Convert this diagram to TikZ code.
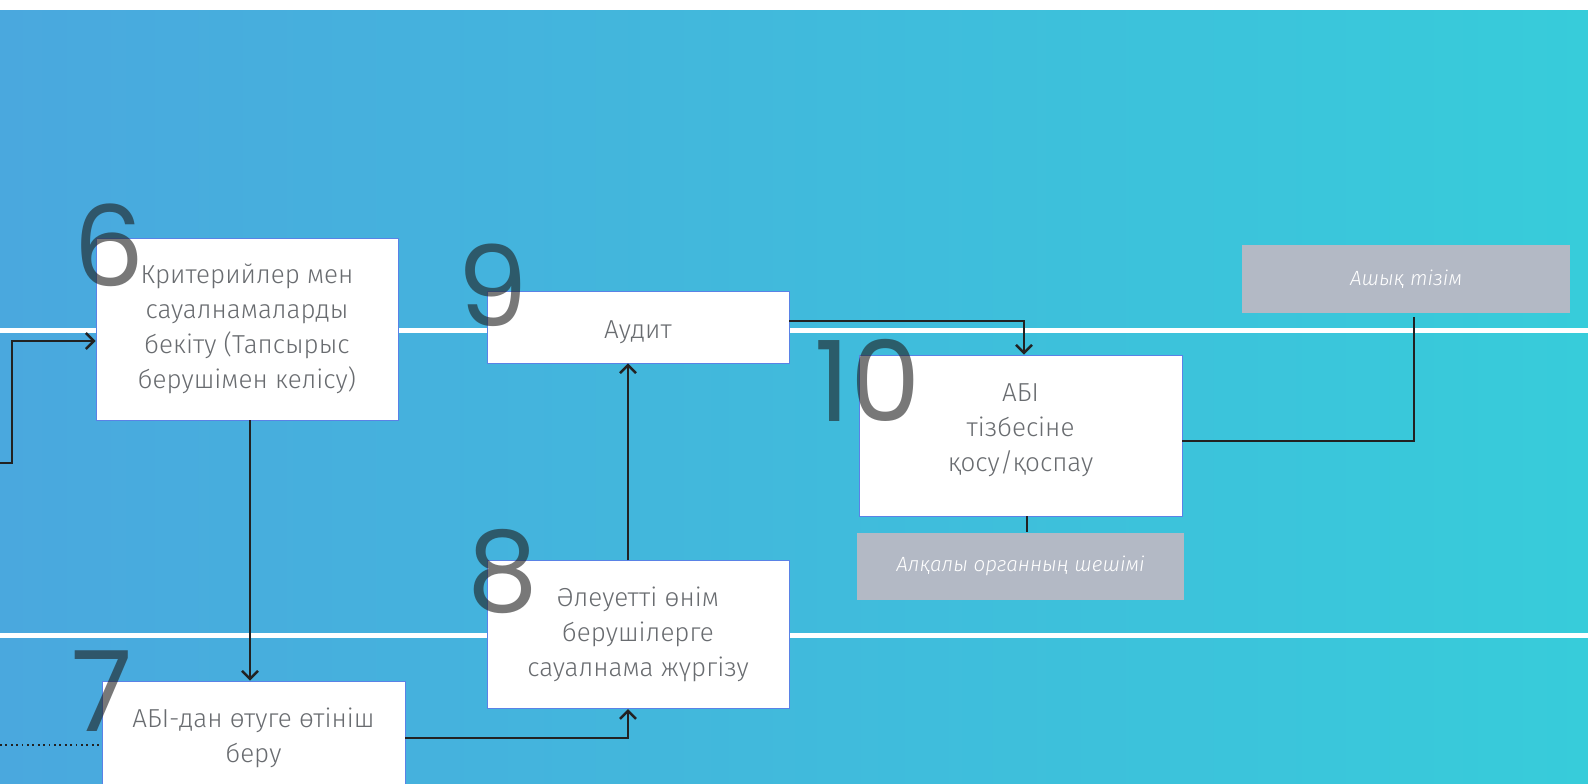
\documentclass[tikz,border=0pt]{standalone}
\usepackage{fontspec}
\setmainfont{Fira Sans}[UprightFont={* Light},ItalicFont={* Light Italic}]
\newfontfamily\digitfont{Poppins}
\usetikzlibrary{positioning,calc,arrows.meta}
\definecolor{bgleft}{RGB}{74,168,222}
\definecolor{bgmid}{RGB}{64,188,222}
\definecolor{bgright}{RGB}{55,204,218}
\definecolor{boxtext}{RGB}{105,108,112}
\definecolor{notefill}{RGB}{179,185,197}
\definecolor{boxedge}{RGB}{90,130,230}
\definecolor{digitgray}{RGB}{30,30,30}
\definecolor{linkcol}{RGB}{34,34,34}
\tikzset{
  stepbox/.style={draw=boxedge, line width=0.4pt, fill=white, text=boxtext,
    align=center, inner sep=0pt, font=\fontsize{13}{17.5}\selectfont},
  notebox/.style={fill=notefill, text=white, align=center, inner sep=0pt,
    font=\fontsize{10.3}{12}\selectfont\itshape},
  stepnum/.style={anchor=south west, inner sep=0pt, text depth=0pt,
    text=digitgray, text opacity=0.6, font=\digitfont\fontsize{56}{56}\selectfont},
  link/.style={draw=linkcol, line width=1.2pt},
  arr/.style={link, -{Straight Barb[length=4pt,width=8pt]}}
}
\begin{document}
\begin{tikzpicture}[x=0.5pt,y=-0.5pt]
\useasboundingbox (0,0) rectangle (1588,783);
\clip (0,0) rectangle (1588,783);
\fill[white] (0,0) rectangle (1588,783);
\shade[left color=bgleft, middle color=bgmid, right color=bgright] (0,10) rectangle (1588,783);
\fill[white] (0,327.5) rectangle (1588,332.5);
\fill[white] (0,632.5) rectangle (1588,637.5);

\node[stepbox, minimum width=151pt, minimum height=91pt] (crit) at (247,329)
  {Критерийлер мен\\сауалнамаларды\\бекіту (Тапсырыс\\берушімен келісу)};
\node[stepbox, minimum width=151.5pt, minimum height=57pt] (app) at (253.5,738)
  {АБІ-дан өтуге өтініш\\беру};
\node[stepbox, minimum width=151pt, minimum height=36pt, text height=14pt] (audit) at (638,327) {Аудит};
\node[stepbox, minimum width=151pt, minimum height=74pt, below=98.5pt of audit] (survey)
  {Әлеуетті өнім\\берушілерге\\сауалнама жүргізу};
\node[stepbox, minimum width=161.5pt, minimum height=80.5pt, text depth=8pt] (incl) at (1020.5,435.5)
  {АБІ\\тізбесіне\\қосу/қоспау};
\node[notebox, minimum width=163.5pt, minimum height=33.5pt, below=8pt of incl] (board)
  {Алқалы органның шешімі};
\node[notebox, minimum width=164pt, minimum height=34pt] (openlist) at (1406,279) {Ашық тізім};

\coordinate (in6) at (0,463);
\coordinate (in7) at (0,745);
\coordinate (c6) at ($(crit.south)+(3,0)$);
\coordinate (c10) at ($(incl.south)+(6.5,0)$);
\draw[arr] (in6) -- ++(12,0) |- ($(crit.west)+(0,12)$);
\draw[arr] (c6) -- (c6 |- app.north);
\draw[arr] (app.east) -| ($(survey.south)+(-10,0)$);
\draw[arr] ($(survey.north)+(-10,0)$) -- ($(audit.south)+(-10,0)$);
\draw[arr] ($(audit.east)+(0,-6)$) -| ($(incl.north)+(3.5,0)$);
\draw[link, shorten >=2pt] ($(incl.east)+(0,5.5)$) -| ($(openlist.south)+(8,0)$);
\draw[link] (c10) -- (c10 |- board.north);
\draw[link, line width=0.9pt, dash pattern=on 0.9pt off 1.8pt] (in7) -- (app.west |- in7);

\node[stepnum] (n6) at (73,287) {6};
\node[stepnum] (n7) at (71,732) {7};
\node[stepnum] (n8) at (467,612) {8};
\node[stepnum] (n9) at (457,327) {9};
\node[stepnum] (n10) at (814,422) {10};
\end{tikzpicture}
\end{document}
